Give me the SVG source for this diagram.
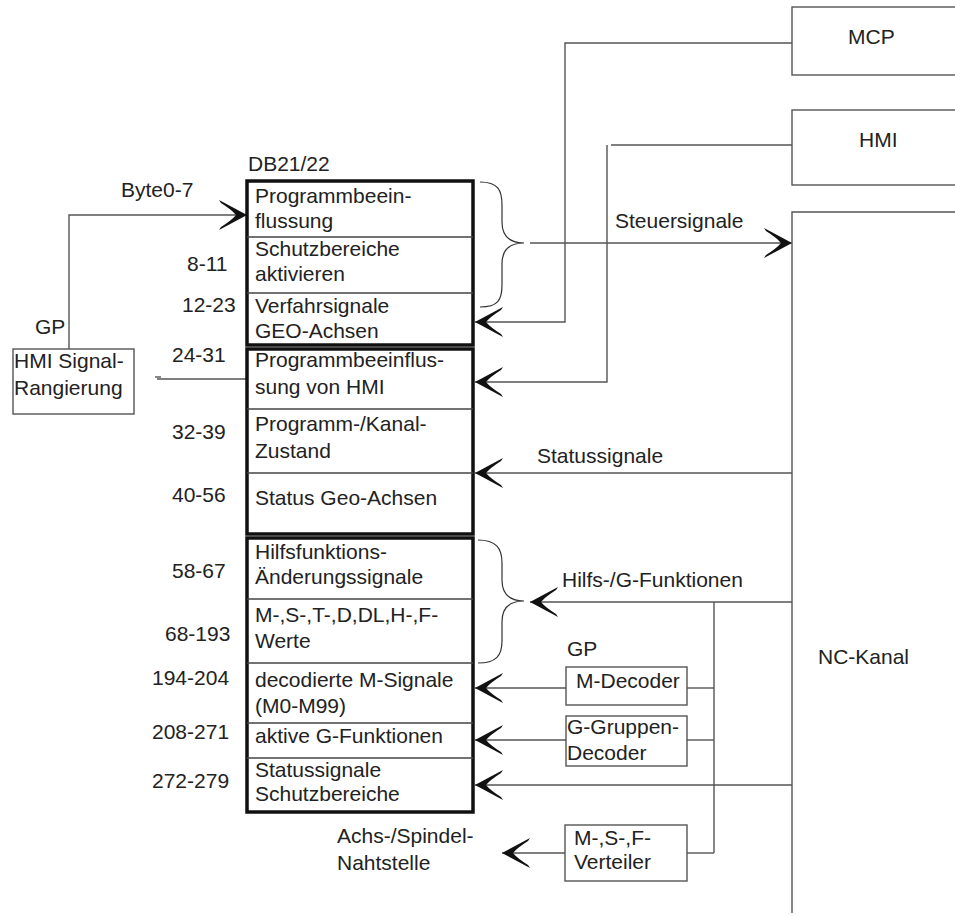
<svg xmlns="http://www.w3.org/2000/svg" width="955" height="916" viewBox="0 0 955 916">
<style>
text{font-family:"Liberation Sans",Arial,sans-serif;font-size:21px;fill:#222}
.ln{fill:none;stroke:#555;stroke-width:1.4}
.box{fill:#fff;stroke:#555;stroke-width:1.4}
.thick{fill:#fff;stroke:#111;stroke-width:3.5}
.sep{stroke:#444;stroke-width:1.4}
.br{fill:none;stroke:#333;stroke-width:1.2}
</style>
<defs>
<marker id="ah" markerUnits="userSpaceOnUse" markerWidth="32" markerHeight="34" viewBox="-30 -17 32 34" refX="0" refY="0" orient="auto">
<path d="M0,0 L-28,-15 L-26,-12 Q-15,-5 -11,0 Q-15,5 -26,12 L-28,15 Z" fill="#111"/>
</marker>
</defs>
<rect width="955" height="916" fill="#fff"/>

<g id="connectors">
<path class="ln" d="M69,349 V215 H247" marker-end="url(#ah)"/>
<path class="ln" d="M157,379 H247"/>
<path class="ln" d="M155,377 H161"/>
<path class="ln" d="M792,43 H565 V322 H475" marker-end="url(#ah)"/>
<path class="ln" d="M792,145 H611"/>
<path class="ln" d="M607,145 V382 H475" marker-end="url(#ah)"/>
<path class="ln" d="M530,243 H792" marker-end="url(#ah)"/>
<path class="ln" d="M792,473 H475" marker-end="url(#ah)"/>
<path class="ln" d="M792,602 H530" marker-end="url(#ah)"/>
<path class="ln" d="M714,602 V853"/>
<path class="ln" d="M714,688 H687"/>
<path class="ln" d="M566,688 H475" marker-end="url(#ah)"/>
<path class="ln" d="M714,740 H687"/>
<path class="ln" d="M566,740 H475" marker-end="url(#ah)"/>
<path class="ln" d="M792,785 H475" marker-end="url(#ah)"/>
<path class="ln" d="M714,853 H687"/>
<path class="ln" d="M565,853 H502" marker-end="url(#ah)"/>
<path class="br" d="M480,182 C498,182 502,190 502,205 V222 C502,236 510,243 524,243 C510,243 502,250 502,264 V285 C502,300 498,307 480,307"/>
<path class="br" d="M478,540 C496,540 502,548 502,563 V580 C502,594 510,601 524,601 C510,601 502,608 502,622 V641 C502,656 496,663 478,663"/>
</g>

<g id="mcp">
<rect class="box" x="792" y="7" width="170" height="68"/>
<text x="848" y="44">MCP</text>
</g>
<g id="hmi">
<rect class="box" x="792" y="110" width="170" height="75"/>
<text x="859" y="147">HMI</text>
</g>
<g id="nc-kanal">
<path class="ln" d="M960,212 H792 V913"/>
<text x="818" y="664">NC-Kanal</text>
</g>

<g id="hmi-signal">
<rect class="box" x="13" y="349" width="121" height="65"/>
<text x="14" y="368">HMI Signal-</text>
<text x="14" y="395">Rangierung</text>
<text x="35" y="334">GP</text>
</g>

<g id="db21">
<text x="248" y="171">DB21/22</text>
<rect class="thick" x="247" y="181" width="226" height="164"/>
<line class="sep" x1="247" y1="237" x2="473" y2="237"/>
<line class="sep" x1="247" y1="293" x2="473" y2="293"/>
<text x="255" y="203">Programmbeein-</text>
<text x="255" y="228">flussung</text>
<text x="255" y="256">Schutzbereiche</text>
<text x="255" y="281">aktivieren</text>
<text x="255" y="313">Verfahrsignale</text>
<text x="255" y="338">GEO-Achsen</text>

<rect class="thick" x="247" y="349" width="226" height="185"/>
<line class="sep" x1="247" y1="409" x2="473" y2="409"/>
<line class="sep" x1="247" y1="473" x2="473" y2="473"/>
<text x="255" y="367">Programmbeeinflus-</text>
<text x="255" y="394">sung von HMI</text>
<text x="255" y="431">Programm-/Kanal-</text>
<text x="255" y="458">Zustand</text>
<text x="255" y="505">Status Geo-Achsen</text>

<rect class="thick" x="247" y="538" width="226" height="274"/>
<line class="sep" x1="247" y1="599" x2="473" y2="599"/>
<line class="sep" x1="247" y1="663" x2="473" y2="663"/>
<line class="sep" x1="247" y1="723" x2="473" y2="723"/>
<line class="sep" x1="247" y1="758" x2="473" y2="758"/>
<text x="255" y="559">Hilfsfunktions-</text>
<text x="255" y="584">Änderungssignale</text>
<text x="255" y="622">M-,S-,T-,D,DL,H-,F-</text>
<text x="255" y="648">Werte</text>
<text x="255" y="687">decodierte M-Signale</text>
<text x="255" y="713">(M0-M99)</text>
<text x="255" y="743">aktive G-Funktionen</text>
<text x="255" y="777">Statussignale</text>
<text x="255" y="801">Schutzbereiche</text>
</g>

<g id="labels">
<text x="121" y="197">Byte0-7</text>
<text x="187" y="271">8-11</text>
<text x="182" y="312">12-23</text>
<text x="172" y="362">24-31</text>
<text x="172" y="439">32-39</text>
<text x="172" y="502">40-56</text>
<text x="172" y="578">58-67</text>
<text x="165" y="641">68-193</text>
<text x="152" y="685">194-204</text>
<text x="152" y="739">208-271</text>
<text x="152" y="788">272-279</text>
<text x="615" y="228">Steuersignale</text>
<text x="537" y="463">Statussignale</text>
<text x="562" y="587">Hilfs-/G-Funktionen</text>
<text x="567" y="656">GP</text>
<text x="337" y="843">Achs-/Spindel-</text>
<text x="337" y="870">Nahtstelle</text>
</g>

<g id="m-decoder">
<rect class="box" x="566" y="667" width="121" height="38"/>
<text x="576" y="688">M-Decoder</text>
</g>
<g id="g-decoder">
<rect class="box" x="566" y="716" width="121" height="50"/>
<text x="567" y="734">G-Gruppen-</text>
<text x="567" y="760">Decoder</text>
</g>
<g id="verteiler">
<rect class="box" x="565" y="825" width="122" height="56"/>
<text x="574" y="845">M-,S-,F-</text>
<text x="574" y="869">Verteiler</text>
</g>
</svg>
